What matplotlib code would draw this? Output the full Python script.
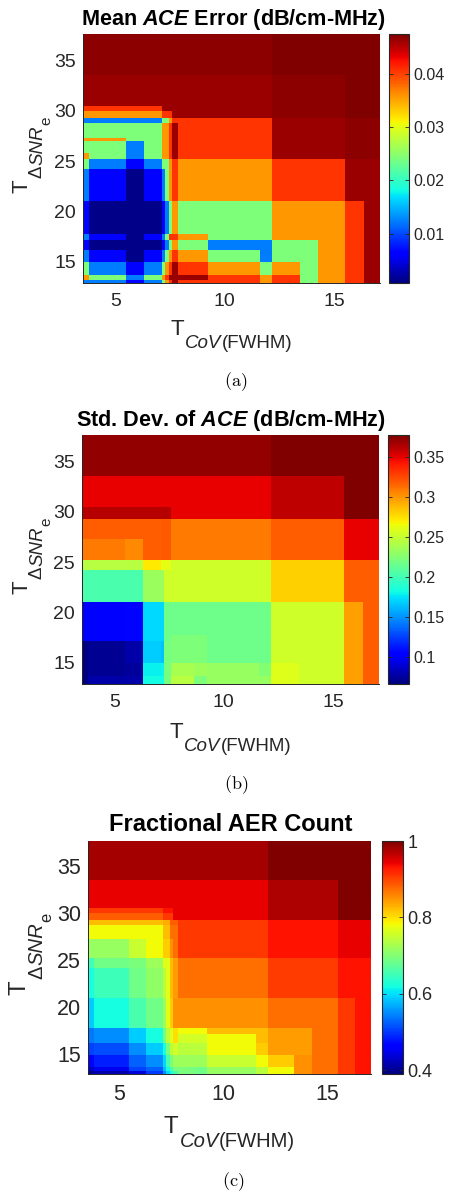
import numpy as np
import matplotlib
matplotlib.use("Agg")
import matplotlib.pyplot as plt

plt.rcParams['font.family'] = ['Liberation Sans', 'DejaVu Sans']
plt.rcParams['mathtext.fontset'] = 'custom'
plt.rcParams['mathtext.rm'] = 'Liberation Sans'
plt.rcParams['mathtext.it'] = 'Liberation Sans:italic'
plt.rcParams['mathtext.bf'] = 'Liberation Sans:bold'
plt.rcParams['mathtext.bfit'] = 'Liberation Sans:italic:bold'

# ---------------- data ----------------
x_edges = [3.53, 3.80, 5.50, 6.33, 7.15, 7.28, 7.45, 7.60, 7.86, 8.67, 9.25,
           11.60, 12.17, 13.43, 14.25, 15.50, 16.35, 17.10]
y_edges = [12.85, 13.15, 13.6, 14.9, 16.1, 17.15, 17.7, 20.97, 24.17, 25.25,
           25.75, 26.95, 27.25, 28.75, 29.25, 30.0, 30.5, 33.55, 37.3, 37.65]
x_ticks = [5, 10, 15]
y_ticks = [15, 20, 25, 30, 35]

# rows: bottom (low T_dSNR) -> top ; columns: left -> right
mean_ace = [
    [.0124, .0124, .0066, .0124, .0241, .0357, .0405, .0462, .0405, .0405, .0405, .0357, .0405, .0241, .0357, .0405, .0462],
    [.0357, .0241, .0124, .0241, .0357, .0405, .0462, .0462, .0462, .0462, .0405, .0357, .0405, .0241, .0357, .0405, .0462],
    [.0241, .0124, .0066, .0124, .0241, .0357, .0405, .0462, .0405, .0405, .0357, .0241, .0357, .0241, .0357, .0405, .0462],
    [.0124, .0066, .0012, .0066, .0124, .0241, .0357, .0405, .0357, .0357, .0241, .0124, .0241, .0241, .0357, .0405, .0462],
    [.0066, .0012, .0012, .0012, .0066, .0124, .0241, .0357, .0241, .0241, .0124, .0124, .0241, .0241, .0357, .0405, .0462],
    [.0124, .0066, .0012, .0066, .0124, .0241, .0405, .0405, .0357, .0357, .0241, .0241, .0357, .0357, .0357, .0405, .0462],
    [.0066, .0012, .0012, .0012, .0066, .0124, .0241, .0357, .0241, .0241, .0241, .0241, .0357, .0357, .0357, .0405, .0462],
    [.0124, .0066, .0012, .0066, .0124, .0241, .0357, .0405, .0357, .0357, .0357, .0357, .0405, .0405, .0405, .0462, .0462],
    [.0241, .0124, .0066, .0124, .0241, .0241, .0357, .0405, .0357, .0357, .0357, .0357, .0405, .0405, .0405, .0462, .0462],
    [.0357, .0241, .0124, .0241, .0357, .0357, .0405, .0462, .0405, .0405, .0405, .0405, .0462, .0462, .0462, .0468, .0468],
    [.0241, .0241, .0124, .0241, .0357, .0357, .0405, .0462, .0405, .0405, .0405, .0405, .0462, .0462, .0462, .0468, .0468],
    [.0357, .0357, .0241, .0241, .0357, .0357, .0405, .0462, .0405, .0405, .0405, .0405, .0462, .0462, .0462, .0468, .0468],
    [.0241, .0241, .0241, .0241, .0357, .0357, .0405, .0462, .0405, .0405, .0405, .0405, .0462, .0462, .0462, .0468, .0468],
    [.0124, .0124, .0124, .0124, .0241, .0241, .0357, .0405, .0405, .0405, .0405, .0405, .0462, .0462, .0462, .0468, .0468],
    [.0357, .0357, .0357, .0357, .0405, .0405, .0405, .0462, .0462, .0462, .0462, .0462, .0468, .0468, .0468, .0474, .0474],
    [.0405, .0405, .0405, .0405, .0462, .0462, .0462, .0462, .0462, .0462, .0462, .0462, .0468, .0468, .0468, .0474, .0474],
    [.0462, .0462, .0462, .0462, .0462, .0462, .0462, .0462, .0462, .0462, .0462, .0462, .0468, .0468, .0468, .0474, .0474],
    [.0468, .0468, .0468, .0468, .0468, .0468, .0468, .0468, .0468, .0468, .0468, .0468, .0474, .0474, .0474, .0474, .0474],
    [.0468, .0468, .0468, .0468, .0468, .0468, .0468, .0468, .0468, .0468, .0468, .0468, .0474, .0474, .0474, .0474, .0474],
]

std_ace = [
    [.067, .078, .078, .183, .183, .220, .220, .245, .245, .222, .232, .232, .259, .253, .253, .296, .318],
    [.067, .078, .078, .183, .183, .220, .220, .245, .245, .222, .232, .232, .259, .253, .253, .296, .318],
    [.067, .073, .075, .179, .180, .220, .220, .238, .238, .235, .232, .225, .259, .253, .253, .296, .318],
    [.067, .073, .079, .168, .165, .220, .220, .222, .222, .222, .217, .217, .253, .253, .253, .296, .318],
    [.067, .073, .079, .168, .165, .220, .220, .222, .222, .222, .217, .217, .253, .253, .253, .296, .318],
    [.104, .104, .106, .172, .172, .217, .217, .222, .222, .222, .217, .217, .253, .253, .253, .296, .318],
    [.104, .104, .106, .172, .172, .217, .217, .217, .217, .217, .217, .217, .253, .253, .253, .296, .318],
    [.203, .203, .203, .234, .234, .253, .253, .253, .253, .253, .253, .253, .281, .281, .281, .318, .318],
    [.245, .245, .245, .272, .261, .261, .261, .253, .253, .253, .253, .253, .281, .281, .281, .318, .318],
    [.309, .309, .304, .318, .320, .320, .320, .308, .308, .308, .308, .308, .318, .318, .318, .348, .348],
    [.309, .309, .304, .318, .320, .320, .320, .308, .308, .308, .308, .308, .318, .318, .318, .348, .348],
    [.309, .309, .304, .318, .320, .320, .320, .308, .308, .308, .308, .308, .318, .318, .318, .348, .348],
    [.318, .318, .318, .318, .320, .320, .320, .308, .308, .308, .308, .308, .318, .318, .318, .348, .348],
    [.318, .318, .318, .318, .320, .320, .320, .308, .308, .308, .308, .308, .318, .318, .318, .348, .348],
    [.362, .362, .362, .362, .362, .362, .362, .348, .348, .348, .348, .348, .359, .359, .359, .377, .377],
    [.362, .362, .362, .362, .362, .362, .362, .348, .348, .348, .348, .348, .359, .359, .359, .377, .377],
    [.348, .348, .348, .348, .348, .348, .348, .348, .348, .348, .348, .348, .359, .359, .359, .377, .377],
    [.372, .372, .372, .372, .372, .372, .372, .372, .372, .372, .372, .372, .377, .377, .377, .377, .377],
    [.372, .372, .372, .372, .372, .372, .372, .372, .372, .372, .372, .372, .377, .377, .377, .377, .377],
]

aer_frac = [
    [.402, .414, .440, .500, .552, .597, .619, .657, .695, .686, .715, .741, .782, .852, .873, .909, .933],
    [.430, .451, .506, .524, .579, .619, .657, .695, .695, .686, .715, .741, .782, .852, .873, .909, .933],
    [.466, .485, .524, .552, .597, .657, .695, .720, .720, .720, .750, .782, .812, .852, .873, .909, .933],
    [.506, .512, .552, .588, .619, .695, .741, .759, .741, .741, .782, .812, .843, .843, .873, .909, .933],
    [.540, .552, .588, .619, .695, .741, .771, .802, .759, .759, .782, .822, .843, .843, .873, .909, .933],
    [.540, .552, .588, .619, .695, .741, .771, .802, .782, .782, .822, .822, .843, .843, .873, .909, .933],
    [.588, .619, .657, .686, .720, .771, .812, .852, .852, .852, .852, .852, .873, .873, .873, .909, .933],
    [.619, .649, .686, .710, .741, .771, .822, .843, .873, .873, .873, .873, .905, .905, .905, .933, .933],
    [.649, .686, .695, .720, .771, .771, .822, .843, .873, .873, .873, .873, .905, .905, .905, .933, .933],
    [.715, .715, .750, .782, .812, .812, .852, .873, .909, .909, .909, .909, .933, .933, .933, .944, .944],
    [.715, .715, .750, .782, .812, .812, .852, .873, .909, .909, .909, .909, .933, .933, .933, .944, .944],
    [.715, .715, .750, .782, .812, .812, .852, .873, .909, .909, .909, .909, .933, .933, .933, .944, .944],
    [.782, .782, .782, .782, .822, .822, .873, .873, .909, .909, .909, .909, .933, .933, .933, .944, .944],
    [.822, .822, .822, .822, .832, .832, .885, .885, .909, .909, .909, .909, .933, .933, .933, .944, .944],
    [.885, .885, .885, .885, .909, .909, .909, .944, .944, .944, .944, .944, .976, .976, .976, 1.00, 1.00],
    [.909, .909, .909, .909, .933, .933, .933, .944, .944, .944, .944, .944, .976, .976, .976, 1.00, 1.00],
    [.944, .944, .944, .944, .944, .944, .944, .944, .944, .944, .944, .944, .976, .976, .976, 1.00, 1.00],
    [.980, .980, .980, .980, .980, .980, .980, .980, .980, .980, .980, .980, 1.00, 1.00, 1.00, 1.00, 1.00],
    [.980, .980, .980, .980, .980, .980, .980, .980, .980, .980, .980, .980, 1.00, 1.00, 1.00, 1.00, 1.00],
]

mean_clim = [0.00077, 0.0474]
std_clim = [0.067, 0.377]
aer_clim = [0.39, 1.0]
mean_cb_ticks = [0.01, 0.02, 0.03, 0.04]
std_cb_ticks = [0.1, 0.15, 0.2, 0.25, 0.3, 0.35]
aer_cb_ticks = [0.4, 0.6, 0.8, 1.0]
mean_cb_labels = ['0.01', '0.02', '0.03', '0.04']
std_cb_labels = ['0.1', '0.15', '0.2', '0.25', '0.3', '0.35']
aer_cb_labels = ['0.4', '0.6', '0.8', '1']

titles = [r'Mean $\mathbfit{ACE}$ Error (dB/cm-MHz)',
          r'Std. Dev. of $\mathbfit{ACE}$ (dB/cm-MHz)',
          'Fractional AER Count']
captions = ['(a)', '(b)', '(c)']

# ---------------- layout ----------------
W, H = 449, 1195
fig = plt.figure(figsize=(W / 100, H / 100), dpi=100)
renderer = fig.canvas.get_renderer()


def box(l, t, r, b):
    return [l / W, 1 - b / H, (r - l) / W, (b - t) / H]


def compose(pieces, px, py, rotation=0):
    """pieces: (text, size, style, shift_px, gap_px)."""
    widths = []
    for s, size, style, shift, gap in pieces:
        t = fig.text(0, 0, s, fontsize=size, fontstyle=style)
        widths.append(t.get_window_extent(renderer).width)
        t.remove()
    total = sum(widths) + sum(p[4] for p in pieces)
    if rotation == 0:
        cur = px - total / 2
        for (s, size, style, shift, gap), w in zip(pieces, widths):
            cur += gap
            fig.text(cur / W, 1 - (py + shift) / H, s, fontsize=size, fontstyle=style,
                     ha='left', va='baseline', rotation_mode='anchor', color='#262626')
            cur += w
    else:
        cur = py + total / 2
        for (s, size, style, shift, gap), w in zip(pieces, widths):
            cur -= gap
            fig.text((px + shift) / W, 1 - cur / H, s, fontsize=size, fontstyle=style,
                     ha='left', va='baseline', rotation=90, rotation_mode='anchor',
                     color='#262626')
            cur -= w


panels = [
    dict(Z=mean_ace, clim=mean_clim, cbt=mean_cb_ticks, cbl=mean_cb_labels,
         ax=(83, 34, 380, 283), cb=(389, 34, 409, 283), tsize=15.6, tbase=25, tx=233,
         lab=14, cbs=11.5, xl_base=335, yl_x=27, cap=382, capx=236, s=1.0),
    dict(Z=std_ace, clim=std_clim, cbt=std_cb_ticks, cbl=std_cb_labels,
         ax=(82, 435, 379, 684), cb=(388, 435, 409, 684), tsize=15.6, tbase=426, tx=231,
         lab=14, cbs=11.5, xl_base=738, yl_x=27, cap=785, capx=236, s=1.0),
    dict(Z=aer_frac, clim=aer_clim, cbt=aer_cb_ticks, cbl=aer_cb_labels,
         ax=(88, 841, 371, 1074), cb=(382, 841, 403, 1074), tsize=17, tbase=831, tx=231,
         lab=15.5, cbs=13, xl_base=1133, yl_x=26, cap=1182, capx=233, s=1.08),
]

for i, p in enumerate(panels):
    l, t, r, b = p['ax']
    ax = fig.add_axes(box(*p['ax']))
    mesh = ax.pcolormesh(x_edges, y_edges, np.array(p['Z']), cmap='jet',
                         vmin=p['clim'][0], vmax=p['clim'][1], shading='flat')
    ax.set_xlim(x_edges[0], x_edges[-1])
    ax.set_ylim(y_edges[0], y_edges[-1])
    ax.set_xticks(x_ticks)
    ax.set_yticks(y_ticks)
    ax.tick_params(axis='both', length=0, labelsize=p['lab'], colors='#262626')
    ax.tick_params(axis='x', pad=7)
    ax.tick_params(axis='y', pad=5)
    for side in ['top', 'right']:
        ax.spines[side].set_visible(False)
    for side in ['left', 'bottom']:
        ax.spines[side].set_linewidth(0.7)
        ax.spines[side].set_color('#262626')

    cax = fig.add_axes(box(*p['cb']))
    cb = fig.colorbar(mesh, cax=cax)
    cb.set_ticks(p['cbt'], labels=p['cbl'])
    cax.tick_params(direction='in', left=True, right=True, length=3, width=0.6,
                    labelsize=p['cbs'], pad=3, colors='#262626')
    cb.outline.set_linewidth(0.8)
    cb.outline.set_edgecolor('#262626')

    # title
    fig.text(p['tx'] / W, 1 - p['tbase'] / H, titles[i], fontsize=p['tsize'],
             fontweight='bold', ha='center', va='baseline')

    s = p['s']
    cx = (l + r) / 2
    cy = (t + b) / 2
    # x label  T_{CoV(FWHM)}
    compose([('T', 16 * s, 'normal', 0, 0),
             ('CoV', 13.5 * s, 'italic', 13 * s, 1),
             ('(FWHM)', 13.5 * s, 'normal', 13 * s, 0)], cx, p['xl_base'])
    # y label  T_{ΔSNR_e}
    compose([('T', 16 * s, 'normal', 0, 0),
             ('Δ', 13.5 * s, 'normal', 15 * s, 1),
             ('SNR', 13.5 * s, 'italic', 15 * s, 0),
             ('e', 11 * s, 'normal', 23 * s, 1)], p['yl_x'], cy - 4, rotation=90)

    # caption
    fig.text(p['capx'] / W, 1 - p['cap'] / H, r'$\mathrm{' + captions[i] + '}$',
             math_fontfamily='cm', fontsize=13, ha='center', va='center')

fig.savefig('out.png', dpi=100)
